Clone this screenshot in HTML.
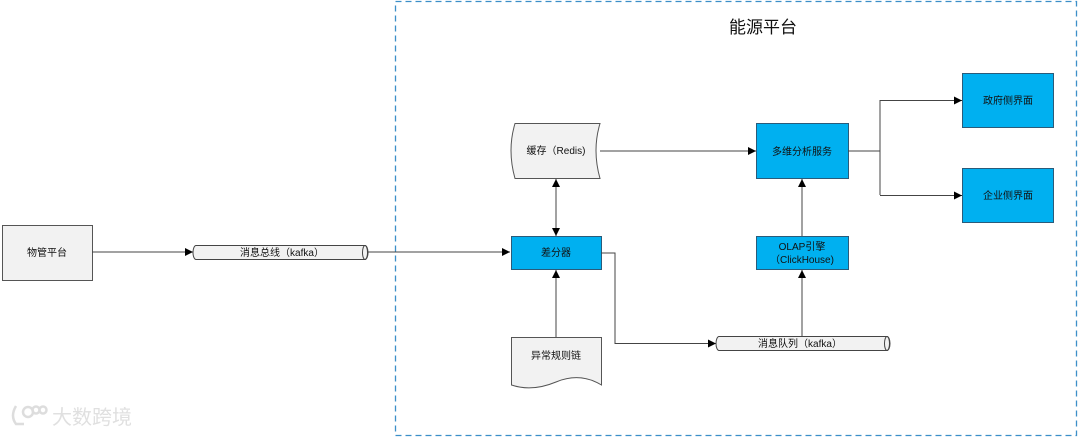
<!DOCTYPE html>
<html><head><meta charset="utf-8">
<style>
html,body{margin:0;padding:0;background:#fff;}
svg{display:block;}
text{font-family:"Liberation Sans","Noto Sans CJK SC",sans-serif;font-size:10px;fill:#111;}
</style></head>
<body>
<svg width="1080" height="438" viewBox="0 0 1080 438" xmlns="http://www.w3.org/2000/svg">
<defs>
<marker id="a" viewBox="0 0 10 10" refX="10" refY="5" markerWidth="10" markerHeight="8" markerUnits="userSpaceOnUse" orient="auto-start-reverse">
<path d="M0,0 L10,5 L0,10 z" fill="#000"/></marker>
</defs>
<rect x="0" y="0" width="1080" height="438" fill="#fff"/>
<rect x="395.5" y="1.5" width="681" height="434" fill="none" stroke="#3c8fc8" stroke-width="1.3" stroke-dasharray="6,4"/>
<text x="763" y="33" text-anchor="middle" style="font-size:17px">能源平台</text>

<rect x="2.5" y="225.5" width="90" height="55" fill="#f2f2f2" stroke="#555"/>
<text x="47" y="256" text-anchor="middle">物管平台</text>
<line x1="92" y1="252" x2="193" y2="252" stroke="#444" marker-end="url(#a)"/>
<path d="M196,245.5 L365,245.5 A3,7 0 0 1 365,259.5 L196,259.5 A3,7 0 0 1 196,245.5 z" fill="#f2f2f2" stroke="#444"/>
<ellipse cx="365" cy="252.5" rx="2.5" ry="7" fill="none" stroke="#444"/>
<text x="282" y="256" text-anchor="middle">消息总线（kafka）</text>
<line x1="368" y1="252" x2="510" y2="252" stroke="#444" marker-end="url(#a)"/>

<rect x="511.5" y="236.5" width="90" height="33" fill="#00b0f0" stroke="#2a5b7a"/>
<text x="556" y="256" text-anchor="middle">差分器</text>

<path d="M515,123.5 L600,123.5 Q592,150 600,178.5 L515,178.5 Q507,150 515,123.5 z" fill="#f2f2f2" stroke="#555"/>
<text x="556" y="154" text-anchor="middle">缓存（Redis)</text>
<line x1="556" y1="179" x2="556" y2="236" stroke="#444" marker-start="url(#a)" marker-end="url(#a)"/>
<line x1="600" y1="151" x2="756" y2="151" stroke="#444" marker-end="url(#a)"/>

<rect x="756.5" y="123.5" width="92" height="55" fill="#00b0f0" stroke="#2a5b7a"/>
<text x="802" y="155" text-anchor="middle">多维分析服务</text>
<polyline points="848,151 880,151" fill="none" stroke="#444"/>
<line x1="880" y1="100" x2="880" y2="195" stroke="#444"/>
<line x1="880" y1="100.5" x2="962" y2="100.5" stroke="#444" marker-end="url(#a)"/>
<line x1="880" y1="195.5" x2="962" y2="195.5" stroke="#444" marker-end="url(#a)"/>
<rect x="962.5" y="73.5" width="91" height="54" fill="#00b0f0" stroke="#2a5b7a"/>
<text x="1008" y="104" text-anchor="middle">政府侧界面</text>
<rect x="962.5" y="168.5" width="91" height="54" fill="#00b0f0" stroke="#2a5b7a"/>
<text x="1008" y="199" text-anchor="middle">企业侧界面</text>

<rect x="756.5" y="236.5" width="92" height="33" fill="#00b0f0" stroke="#2a5b7a"/>
<text x="802" y="250" text-anchor="middle">OLAP引擎</text>
<text x="802" y="263" text-anchor="middle">（ClickHouse)</text>
<line x1="802" y1="236" x2="802" y2="179" stroke="#444" marker-end="url(#a)"/>

<path d="M511.5,337.5 L601.5,337.5 L601.5,385 Q580,372 556,382 Q532,392 511.5,385 z" fill="#f2f2f2" stroke="#555"/>
<text x="556" y="359" text-anchor="middle">异常规则链</text>
<line x1="556" y1="337" x2="556" y2="270" stroke="#444" marker-end="url(#a)"/>

<polyline points="601,253 615,253 615,343.5 716,343.5" fill="none" stroke="#444" marker-end="url(#a)"/>
<path d="M719,336.5 L887,336.5 A3,7 0 0 1 887,350.5 L719,350.5 A3,7 0 0 1 719,336.5 z" fill="#f2f2f2" stroke="#444"/>
<ellipse cx="887" cy="343.5" rx="2.5" ry="7" fill="none" stroke="#444"/>
<text x="800" y="347" text-anchor="middle">消息队列（kafka）</text>
<line x1="802" y1="336" x2="802" y2="270" stroke="#444" marker-end="url(#a)"/>

<g fill="none" stroke="#ddd" stroke-width="2.5">
<path d="M16,406 Q10,416 16,424 L24,424"/>
<circle cx="28" cy="412" r="5"/>
<circle cx="36" cy="410" r="3.5"/>
<circle cx="43" cy="410" r="3.5"/>
</g>
<text x="52" y="424" style="font-size:20px;fill:#e0e0e0">大数跨境</text>
</svg>
</body></html>
